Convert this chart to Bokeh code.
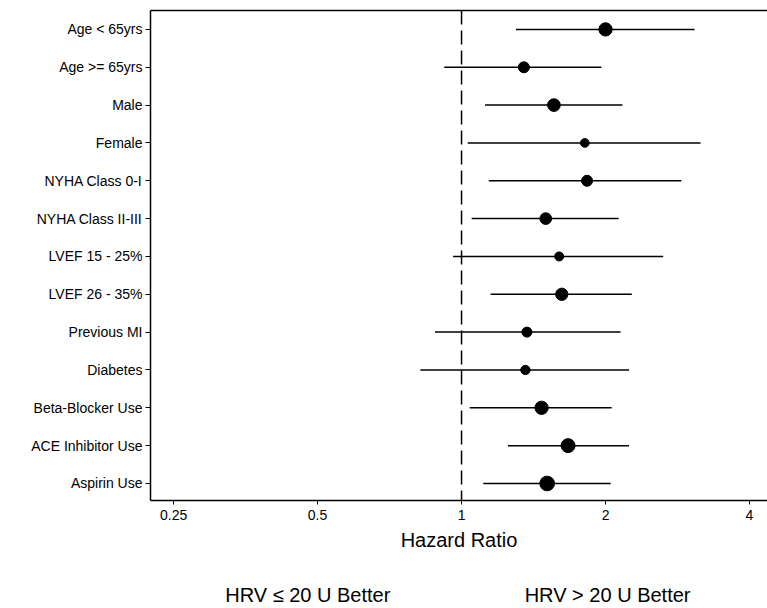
from bokeh.plotting import figure
from bokeh.models import (Range1d, FixedTicker, LogAxis, Span, ColumnDataSource)
from bokeh.embed import file_html
from bokeh.resources import INLINE

# ---- data ----
categories = ["Age < 65yrs", "Age >= 65yrs", "Male", "Female", "NYHA Class 0-I",
              "NYHA Class II-III", "LVEF 15 - 25%", "LVEF 26 - 35%", "Previous MI",
              "Diabetes", "Beta-Blocker Use", "ACE Inhibitor Use", "Aspirin Use"]
hazard_ratio = [2.00, 1.35, 1.56, 1.81, 1.83, 1.50, 1.60, 1.62, 1.37, 1.36, 1.47, 1.67, 1.51]
ci_lower = [1.30, 0.92, 1.12, 1.03, 1.14, 1.05, 0.96, 1.15, 0.88, 0.82, 1.04, 1.25, 1.11]
ci_upper = [3.07, 1.96, 2.17, 3.16, 2.88, 2.13, 2.64, 2.27, 2.15, 2.24, 2.06, 2.24, 2.05]
weight = [13.3, 11.0, 12.7, 8.7, 11.0, 11.7, 9.0, 12.3, 10.0, 9.3, 13.3, 14.0, 14.7]
x_ticks = [0.25, 0.5, 1, 2, 4]
x_tick_labels = ["0.25", "0.5", "1", "2", "4"]
footer_pos = [0.477, 2.02]
footer_labels = ["HRV \u2264 20 U Better", "HRV > 20 U Better"]

FONT = "Liberation Sans"
rows = list(range(len(categories)))

src = ColumnDataSource(dict(y=rows, hr=hazard_ratio, lo=ci_lower, hi=ci_upper, w=weight))

p = figure(width=767, height=608, x_axis_type="log",
           x_range=Range1d(0.2237, 4.362), y_range=Range1d(12.45, -0.5),
           output_backend="svg", toolbar_location=None,
           min_border_left=150, min_border_right=0, min_border_top=10, min_border_bottom=20)
p.background_fill_color = "white"
p.border_fill_color = "white"
p.outline_line_color = None
p.xgrid.visible = False
p.ygrid.visible = False

# null line
p.add_layout(Span(location=1, dimension="height", line_color="black",
                  line_width=1.5, line_dash="14 6"))

p.segment(x0="lo", x1="hi", y0="y", y1="y", source=src, line_color="black", line_width=1.5)
p.scatter(x="hr", y="y", size="w", source=src, fill_color="black", line_color="black")

# y axis
ya = p.yaxis[0]
ya.ticker = FixedTicker(ticks=rows)
ya.major_label_overrides = {i: c for i, c in enumerate(categories)}
ya.major_label_text_font = FONT
ya.major_label_text_font_size = "14px"
ya.major_label_text_color = "black"
ya.major_tick_out = 5
ya.major_tick_in = 0
ya.minor_tick_line_color = None
ya.axis_line_color = "black"
ya.axis_line_width = 1.5
ya.major_tick_line_color = "black"
ya.major_label_standoff = 3

# x axis
xa = p.xaxis[0]
xa.ticker = FixedTicker(ticks=x_ticks)
xa.major_label_overrides = {t: l for t, l in zip(x_ticks, x_tick_labels)}
xa.major_label_text_font = FONT
xa.major_label_text_font_size = "14px"
xa.major_label_text_color = "black"
xa.major_tick_out = 4
xa.major_tick_in = 0
xa.minor_tick_line_color = None
xa.axis_line_color = "black"
xa.axis_line_width = 1.5
xa.major_label_standoff = 5
xa.axis_label = "Hazard Ratio"
xa.axis_label_text_font = FONT
xa.axis_label_text_font_style = "normal"
xa.axis_label_text_font_size = "20px"
xa.axis_label_text_color = "black"
xa.axis_label_standoff = 6

# footer axis with the two "better" captions
fa = LogAxis(ticker=FixedTicker(ticks=footer_pos),
             major_label_overrides={t: l for t, l in zip(footer_pos, footer_labels)})
fa.axis_line_color = None
fa.major_tick_line_color = None
fa.minor_tick_line_color = None
fa.major_label_text_font = FONT
fa.major_label_text_font_size = "20px"
fa.major_label_text_color = "black"
fa.major_label_standoff = 24
p.add_layout(fa, "below")

# top frame line
ta = LogAxis(ticker=FixedTicker(ticks=[]))
ta.axis_line_color = "black"
ta.axis_line_width = 1.5
ta.major_tick_line_color = None
ta.minor_tick_line_color = None
ta.major_label_standoff = 0
p.add_layout(ta, "above")

open("out.html", "w").write(file_html(p, INLINE))
